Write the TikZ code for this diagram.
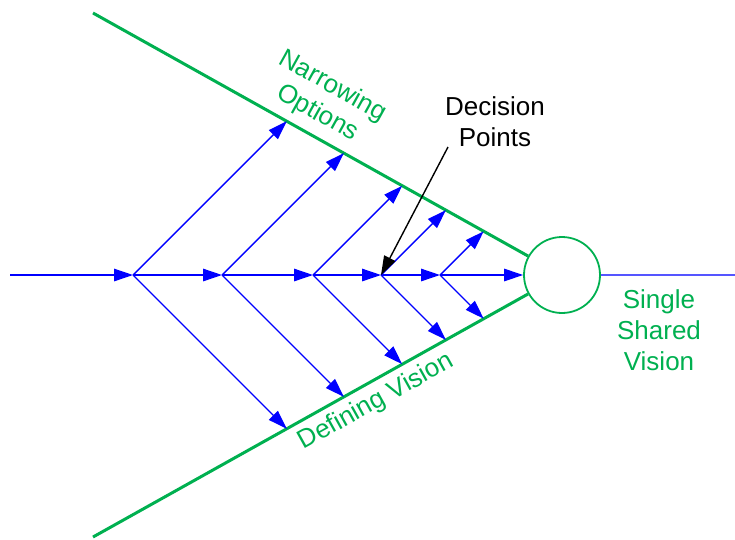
\documentclass[tikz,border=0pt]{standalone}
\usepackage{fontspec}
\setmainfont{Liberation Sans}
\usetikzlibrary{arrows.meta}
\definecolor{vgreen}{HTML}{00B050}
\definecolor{vblue}{HTML}{0000FF}
\definecolor{lblue}{HTML}{5555FF}
\begin{document}
\begin{tikzpicture}[x=1pt,y=-1pt,
  flow/.style={vblue, line width=1.4pt, -{Triangle[length=19pt,width=12.5pt]}},
  fence/.style={vgreen, line width=3pt},
  lbl/.style={font=\fontsize{26}{31}\selectfont, align=center, inner sep=0pt},
]
\useasboundingbox (0,0) rectangle (735,539);

% goal circle
\node[circle, draw=vgreen, line width=1.8pt, minimum size=76pt, inner sep=0pt] (goal) at (562,275) {};
\coordinate (rend) at (735,275);
\draw[lblue, line width=1.3pt] (goal.east) -- (rend);

% fences
\coordinate (u0) at (93,13);
\coordinate (l0) at (93,537);
\draw[fence] (u0) -- (goal);
\draw[fence] (l0) -- (goal);

% junctions
\coordinate (j0) at (10,275);
\coordinate (j1) at (133,275);
\coordinate (j2) at (222,275);
\coordinate (j3) at (313,275);
\coordinate (j4) at (381,275);
\coordinate (j5) at (440,275);

% branch tips
\coordinate (a1) at (286.8,121.2);
\coordinate (a2) at (343.9,153.1);
\coordinate (a3) at (402.2,185.8);
\coordinate (a4) at (445.9,210.1);
\coordinate (a5) at (483.7,231.3);
\coordinate (b1) at (286.8,428.8);
\coordinate (b2) at (343.9,396.9);
\coordinate (b3) at (402.2,364.2);
\coordinate (b4) at (445.9,339.9);
\coordinate (b5) at (483.7,318.7);

% main flow
\draw[flow] (j0) -- (j1);
\draw[flow] (j1) -- (j2);
\draw[flow] (j2) -- (j3);
\draw[flow] (j3) -- (j4);
\draw[flow] (j4) -- (j5);
\draw[flow] (j5) -- (goal);

% branches
\foreach \i in {1,...,5}{
  \draw[flow] (j\i) -- (a\i);
  \draw[flow] (j\i) -- (b\i);
}

% decision points pointer
\node[lbl] (dp) at (495,122) {Decision\\Points};
\coordinate (ds) at (448,147);
\draw[black, line width=1.4pt, -{Triangle[length=19pt,width=12.5pt]}] (ds) -- (j4);

% labels
\node[lbl, text=vgreen, rotate=-29.08] (narrow) at (325,100) {Narrowing\\Options};
\node[lbl, text=vgreen, rotate=29.08] (defin) at (376,402) {Defining Vision};
\node[lbl, text=vgreen] (single) at (659,330) {Single\\Shared\\Vision};
\end{tikzpicture}
\end{document}
